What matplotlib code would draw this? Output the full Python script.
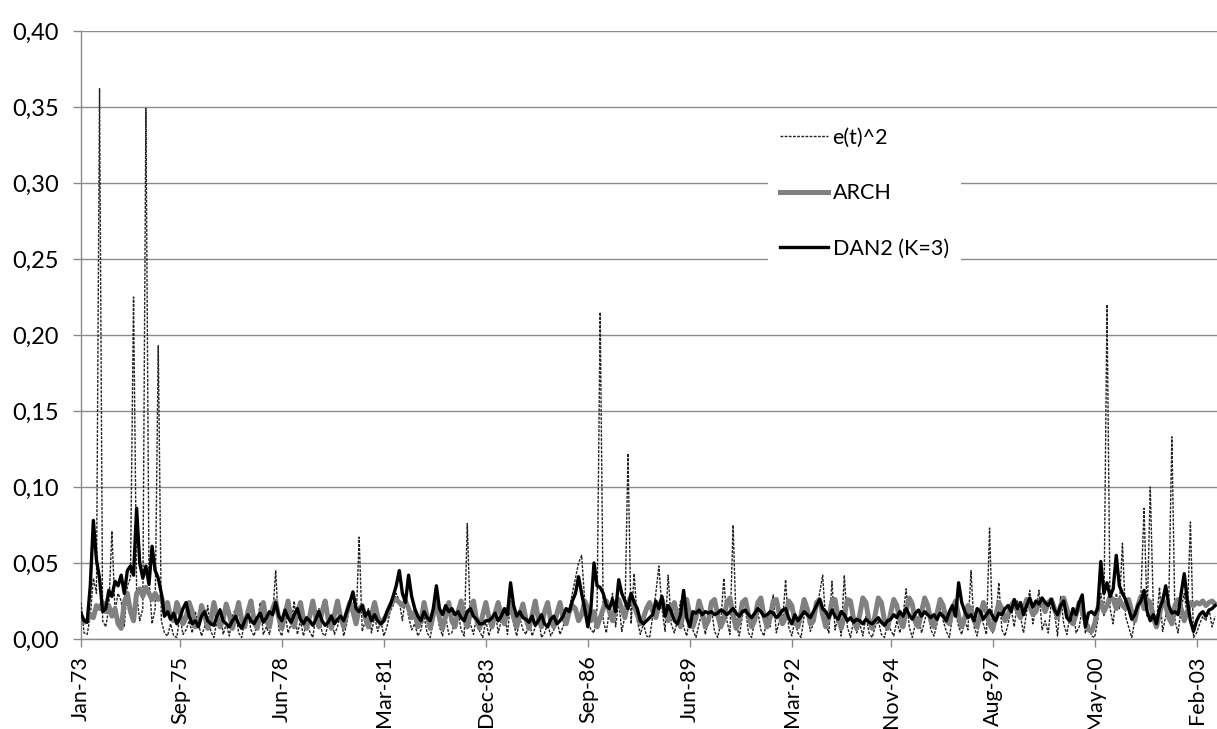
import matplotlib
matplotlib.use("Agg")
import matplotlib.pyplot as plt
from matplotlib.lines import Line2D

# monthly values, Jan-73 .. Aug-03, one row per year
e2 = [
    0.024, 0.004, 0.003, 0.015, 0.040, 0.030, 0.362, 0.012, 0.008, 0.020, 0.071, 0.018,
    0.030, 0.025, 0.008, 0.035, 0.040, 0.225, 0.030, 0.012, 0.020, 0.349, 0.040, 0.010,
    0.020, 0.193, 0.012, 0.004, 0.002, 0.010, 0.002, 0.001, 0.015, 0.003, 0.006, 0.012,
    0.004, 0.018, 0.010, 0.002, 0.008, 0.022, 0.005, 0.001, 0.012, 0.020, 0.003, 0.010,
    0.002, 0.015, 0.020, 0.004, 0.001, 0.012, 0.018, 0.006, 0.002, 0.010, 0.024, 0.003,
    0.008, 0.003, 0.015, 0.045, 0.006, 0.002, 0.018, 0.004, 0.010, 0.025, 0.003, 0.012,
    0.002, 0.012, 0.005, 0.001, 0.015, 0.020, 0.004, 0.002, 0.010, 0.016, 0.003, 0.008,
    0.018, 0.002, 0.010, 0.024, 0.030, 0.010, 0.067, 0.005, 0.012, 0.020, 0.004, 0.015,
    0.005, 0.012, 0.002, 0.008, 0.018, 0.022, 0.030, 0.025, 0.012, 0.028, 0.015, 0.006,
    0.010, 0.002, 0.006, 0.015, 0.004, 0.001, 0.012, 0.020, 0.008, 0.002, 0.015, 0.003,
    0.004, 0.012, 0.018, 0.006, 0.002, 0.076, 0.010, 0.003, 0.015, 0.005, 0.001, 0.012,
    0.002, 0.010, 0.020, 0.004, 0.012, 0.018, 0.003, 0.025, 0.010, 0.002, 0.014, 0.006,
    0.003, 0.012, 0.002, 0.008, 0.015, 0.001, 0.004, 0.010, 0.002, 0.006, 0.012, 0.003,
    0.008, 0.015, 0.020, 0.030, 0.040, 0.050, 0.055, 0.025, 0.012, 0.006, 0.004, 0.020,
    0.215, 0.012, 0.004, 0.020, 0.030, 0.008, 0.025, 0.005, 0.015, 0.122, 0.010, 0.043,
    0.012, 0.003, 0.010, 0.002, 0.001, 0.015, 0.030, 0.048, 0.020, 0.005, 0.042, 0.010,
    0.004, 0.012, 0.025, 0.008, 0.002, 0.015, 0.006, 0.001, 0.010, 0.018, 0.003, 0.012,
    0.020, 0.005, 0.001, 0.010, 0.040, 0.012, 0.003, 0.075, 0.010, 0.002, 0.015, 0.020,
    0.004, 0.001, 0.012, 0.018, 0.006, 0.002, 0.015, 0.008, 0.029, 0.004, 0.012, 0.010,
    0.039, 0.008, 0.002, 0.012, 0.004, 0.001, 0.015, 0.020, 0.005, 0.010, 0.018, 0.030,
    0.042, 0.010, 0.004, 0.038, 0.006, 0.015, 0.002, 0.042, 0.008, 0.001, 0.012, 0.004,
    0.010, 0.002, 0.015, 0.004, 0.001, 0.008, 0.012, 0.003, 0.001, 0.010, 0.006, 0.002,
    0.012, 0.004, 0.015, 0.033, 0.008, 0.001, 0.010, 0.015, 0.004, 0.012, 0.020, 0.006,
    0.002, 0.010, 0.020, 0.012, 0.005, 0.001, 0.015, 0.018, 0.008, 0.003, 0.012, 0.006,
    0.045, 0.008, 0.002, 0.015, 0.010, 0.003, 0.073, 0.004, 0.012, 0.037, 0.006, 0.002,
    0.010, 0.020, 0.008, 0.025, 0.015, 0.004, 0.018, 0.032, 0.010, 0.020, 0.032, 0.006,
    0.012, 0.004, 0.025, 0.018, 0.002, 0.028, 0.010, 0.003, 0.015, 0.020, 0.004, 0.008,
    0.020, 0.004, 0.010, 0.002, 0.001, 0.012, 0.030, 0.015, 0.220, 0.020, 0.010, 0.030,
    0.020, 0.063, 0.015, 0.008, 0.001, 0.012, 0.020, 0.030, 0.086, 0.015, 0.100, 0.020,
    0.010, 0.034, 0.005, 0.015, 0.025, 0.133, 0.012, 0.004, 0.020, 0.030, 0.015, 0.077,
    0.001, 0.004, 0.010, 0.015, 0.012, 0.020, 0.008, 0.015,
]

arch = [
    0.013, 0.011, 0.012, 0.016, 0.014, 0.022, 0.020, 0.024, 0.018, 0.022, 0.015, 0.020,
    0.010, 0.007, 0.024, 0.030, 0.018, 0.012, 0.030, 0.033, 0.028, 0.034, 0.030, 0.026,
    0.030, 0.026, 0.028, 0.020, 0.024, 0.014, 0.012, 0.024, 0.018, 0.010, 0.014, 0.024,
    0.018, 0.008, 0.010, 0.022, 0.016, 0.007, 0.012, 0.024, 0.015, 0.008, 0.013, 0.023,
    0.016, 0.007, 0.014, 0.024, 0.013, 0.008, 0.018, 0.025, 0.012, 0.007, 0.016, 0.024,
    0.012, 0.008, 0.020, 0.025, 0.014, 0.007, 0.016, 0.025, 0.012, 0.008, 0.017, 0.024,
    0.013, 0.007, 0.015, 0.025, 0.014, 0.008, 0.018, 0.025, 0.013, 0.007, 0.016, 0.025,
    0.014, 0.008, 0.017, 0.024, 0.018, 0.010, 0.020, 0.022, 0.014, 0.008, 0.016, 0.024,
    0.015, 0.010, 0.013, 0.016, 0.022, 0.025, 0.026, 0.024, 0.022, 0.025, 0.020, 0.014,
    0.018, 0.008, 0.012, 0.024, 0.015, 0.007, 0.016, 0.025, 0.014, 0.007, 0.015, 0.024,
    0.012, 0.008, 0.018, 0.025, 0.014, 0.008, 0.017, 0.025, 0.013, 0.007, 0.016, 0.024,
    0.014, 0.008, 0.017, 0.024, 0.015, 0.010, 0.019, 0.023, 0.014, 0.008, 0.016, 0.023,
    0.013, 0.007, 0.016, 0.025, 0.013, 0.008, 0.018, 0.024, 0.012, 0.008, 0.017, 0.024,
    0.014, 0.010, 0.018, 0.022, 0.020, 0.012, 0.016, 0.025, 0.020, 0.012, 0.018, 0.008,
    0.014, 0.020, 0.025, 0.018, 0.012, 0.022, 0.026, 0.020, 0.014, 0.024, 0.028, 0.022,
    0.016, 0.010, 0.014, 0.020, 0.024, 0.018, 0.014, 0.022, 0.026, 0.018, 0.012, 0.020,
    0.024, 0.014, 0.008, 0.018, 0.026, 0.016, 0.008, 0.014, 0.025, 0.018, 0.008, 0.012,
    0.024, 0.026, 0.016, 0.008, 0.013, 0.024, 0.027, 0.016, 0.007, 0.012, 0.024, 0.026,
    0.016, 0.008, 0.012, 0.024, 0.027, 0.015, 0.008, 0.014, 0.025, 0.026, 0.016, 0.010,
    0.014, 0.025, 0.022, 0.012, 0.008, 0.016, 0.026, 0.020, 0.010, 0.012, 0.024, 0.026,
    0.016, 0.008, 0.014, 0.025, 0.026, 0.014, 0.007, 0.015, 0.026, 0.025, 0.013, 0.007,
    0.016, 0.027, 0.024, 0.012, 0.007, 0.016, 0.027, 0.024, 0.012, 0.007, 0.017, 0.026,
    0.022, 0.012, 0.008, 0.018, 0.027, 0.023, 0.011, 0.008, 0.018, 0.027, 0.022, 0.012,
    0.008, 0.017, 0.026, 0.022, 0.012, 0.010, 0.020, 0.025, 0.015, 0.008, 0.014, 0.022,
    0.020, 0.012, 0.008, 0.016, 0.024, 0.018, 0.010, 0.006, 0.015, 0.024, 0.020, 0.012,
    0.016, 0.022, 0.025, 0.018, 0.014, 0.020, 0.026, 0.022, 0.016, 0.018, 0.025, 0.024,
    0.018, 0.024, 0.026, 0.020, 0.014, 0.022, 0.027, 0.020, 0.012, 0.010, 0.016, 0.024,
    0.018, 0.012, 0.006, 0.005, 0.010, 0.020, 0.024, 0.018, 0.022, 0.028, 0.026, 0.020,
    0.026, 0.022, 0.020, 0.026, 0.018, 0.012, 0.022, 0.028, 0.020, 0.026, 0.024, 0.014,
    0.008, 0.016, 0.026, 0.022, 0.014, 0.010, 0.022, 0.026, 0.020, 0.012, 0.018, 0.024,
    0.022, 0.024, 0.023, 0.025, 0.022, 0.024, 0.025, 0.023,
]

dan2 = [
    0.017, 0.012, 0.011, 0.035, 0.078, 0.052, 0.040, 0.018, 0.020, 0.032, 0.028, 0.038,
    0.035, 0.042, 0.030, 0.045, 0.048, 0.042, 0.086, 0.050, 0.040, 0.048, 0.036, 0.061,
    0.045, 0.040, 0.030, 0.015, 0.018, 0.013, 0.017, 0.010, 0.014, 0.020, 0.024, 0.015,
    0.010, 0.012, 0.008, 0.015, 0.018, 0.012, 0.010, 0.009, 0.015, 0.019, 0.012, 0.010,
    0.008, 0.012, 0.015, 0.010, 0.007, 0.012, 0.016, 0.012, 0.010, 0.014, 0.017, 0.011,
    0.014, 0.018, 0.016, 0.024, 0.015, 0.012, 0.019, 0.014, 0.011, 0.016, 0.020, 0.013,
    0.010, 0.014, 0.012, 0.009, 0.013, 0.018, 0.012, 0.009, 0.011, 0.015, 0.010, 0.013,
    0.015, 0.012, 0.018, 0.024, 0.031, 0.020, 0.018, 0.022, 0.015, 0.018, 0.012, 0.016,
    0.012, 0.010, 0.012, 0.018, 0.022, 0.028, 0.035, 0.045, 0.030, 0.024, 0.042, 0.028,
    0.020, 0.015, 0.012, 0.018, 0.014, 0.012, 0.020, 0.035, 0.020, 0.016, 0.022, 0.018,
    0.020, 0.016, 0.018, 0.014, 0.012, 0.018, 0.020, 0.015, 0.013, 0.010, 0.010, 0.012,
    0.012, 0.014, 0.017, 0.012, 0.015, 0.020, 0.016, 0.037, 0.022, 0.015, 0.018, 0.014,
    0.013, 0.011, 0.015, 0.009, 0.012, 0.016, 0.010, 0.008, 0.013, 0.015, 0.010, 0.012,
    0.015, 0.020, 0.018, 0.025, 0.030, 0.041, 0.030, 0.020, 0.008, 0.020, 0.050, 0.035,
    0.034, 0.030, 0.022, 0.020, 0.026, 0.018, 0.039, 0.030, 0.025, 0.020, 0.030, 0.024,
    0.020, 0.012, 0.010, 0.012, 0.014, 0.016, 0.025, 0.020, 0.028, 0.015, 0.022, 0.018,
    0.012, 0.010, 0.016, 0.032, 0.014, 0.008, 0.018, 0.017, 0.019, 0.016, 0.018, 0.017,
    0.018, 0.016, 0.017, 0.019, 0.018, 0.016, 0.018, 0.020, 0.017, 0.015, 0.018, 0.019,
    0.016, 0.014, 0.017, 0.020, 0.018, 0.015, 0.016, 0.018, 0.017, 0.014, 0.016, 0.019,
    0.020, 0.014, 0.010, 0.016, 0.012, 0.015, 0.018, 0.016, 0.014, 0.018, 0.022, 0.026,
    0.020, 0.018, 0.014, 0.019, 0.015, 0.013, 0.018, 0.016, 0.012, 0.014, 0.011, 0.013,
    0.012, 0.010, 0.013, 0.011, 0.010, 0.012, 0.014, 0.011, 0.009, 0.012, 0.013, 0.016,
    0.014, 0.018, 0.015, 0.020, 0.016, 0.013, 0.017, 0.019, 0.015, 0.018, 0.016, 0.014,
    0.016, 0.013, 0.017, 0.015, 0.012, 0.018, 0.022, 0.015, 0.037, 0.024, 0.018, 0.014,
    0.016, 0.012, 0.020, 0.018, 0.013, 0.016, 0.019, 0.015, 0.012, 0.017, 0.016, 0.020,
    0.022, 0.018, 0.026, 0.020, 0.024, 0.016, 0.022, 0.027, 0.021, 0.025, 0.023, 0.027,
    0.024, 0.022, 0.026, 0.019, 0.016, 0.022, 0.025, 0.014, 0.012, 0.020, 0.016, 0.024,
    0.029, 0.008, 0.017, 0.018, 0.016, 0.020, 0.051, 0.030, 0.037, 0.028, 0.033, 0.055,
    0.035, 0.030, 0.026, 0.020, 0.013, 0.016, 0.022, 0.025, 0.032, 0.018, 0.012, 0.016,
    0.010, 0.020, 0.025, 0.035, 0.022, 0.017, 0.018, 0.016, 0.030, 0.043, 0.025, 0.012,
    0.005, 0.012, 0.016, 0.018, 0.015, 0.019, 0.020, 0.022,
]

tick_pos = [0, 32, 65, 98, 131, 164, 197, 230, 262, 295, 328, 361]
tick_labels = ["Jan-73", "Sep-75", "Jun-78", "Mar-81", "Dec-83", "Sep-86",
               "Jun-89", "Mar-92", "Nov-94", "Aug-97", "May-00", "Feb-03"]
y_ticks = [0.0, 0.05, 0.10, 0.15, 0.20, 0.25, 0.30, 0.35, 0.40]

plt.rcParams['font.family'] = ['Lato', 'DejaVu Sans']

W, H = 1217, 729
fig = plt.figure(figsize=(W / 100, H / 100), dpi=100)
ax = fig.add_axes([81 / W, 1 - 639 / H, (1217 - 81) / W, (639 - 31) / H])

months = range(len(e2))
grid_col = '#8a8a8a'

ax.plot(months, e2, color='#222222', lw=1.0, ls=(0, (2, 1)), zorder=3)
ax.plot(months, arch, color='#808080', lw=3.6, zorder=4)
ax.plot(months, dan2, color='black', lw=2.4, zorder=5)

ax.set_xlim(0, 367.6)
ax.set_ylim(0, 0.40)
ax.set_yticks(y_ticks)
ax.set_yticklabels([f"{v:.2f}".replace('.', ',') for v in y_ticks])
ax.set_xticks(tick_pos)
ax.set_xticklabels(tick_labels, rotation=90)

ax.grid(axis='y', color=grid_col, lw=1.0)
ax.set_axisbelow(True)
for s in ['top', 'right']:
    ax.spines[s].set_visible(False)
for s in ['left', 'bottom']:
    ax.spines[s].set_color(grid_col)
    ax.spines[s].set_linewidth(1.0)
ax.tick_params(axis='both', colors=grid_col, labelcolor='black', length=6, width=1.0)
ax.tick_params(axis='y', pad=10, labelsize=17)
ax.tick_params(axis='x', pad=6, labelsize=15.5)

handles = [
    Line2D([0], [0], color='#222222', lw=1.0, ls=(0, (2, 1))),
    Line2D([0], [0], color='#808080', lw=3.6),
    Line2D([0], [0], color='black', lw=2.4),
]
leg = ax.legend(handles, ['e(t)^2', 'ARCH', 'DAN2 (K=3)'],
                loc='upper left', bbox_to_anchor=(768 / W, 1 - 116 / H),
                bbox_transform=fig.transFigure, borderaxespad=0,
                fontsize=15.5, frameon=True, fancybox=False, framealpha=1,
                facecolor='white', edgecolor='none', borderpad=0.55,
                handlelength=2.25, handletextpad=0.2, labelspacing=1.65)

fig.savefig('out.png', dpi=100)
